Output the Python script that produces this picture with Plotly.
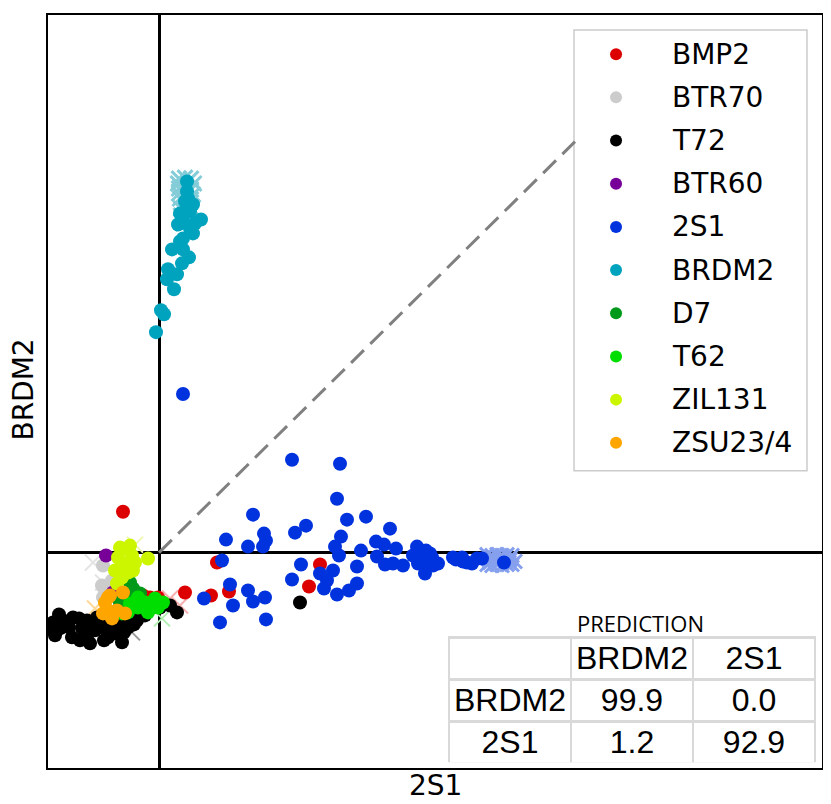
"""Scatter of BRDM2 vs 2S1 classifier scores with a small prediction table."""

import plotly.graph_objects as go

CLASSES = ['BMP2', 'BTR70', 'T72', 'BTR60', '2S1',
           'BRDM2', 'D7', 'T62', 'ZIL131', 'ZSU23/4']
COLORS = ['#dd0000', '#cccccc', '#000000', '#770099', '#0033dd',
          '#00a3bd', '#009a1a', '#00dd00', '#ccf500', '#ffa500']

# test points (x = 2S1 score, y = BRDM2 score, arbitrary units)
BMP2_X = [-0.36, 0.58, 0.26, 0.52, 0.70, 1.61, 1.50, -0.09, -0.01, 0.03, -0.16]
BMP2_Y = [0.41, -0.10, -0.40, -0.43, -0.39, -0.12, -0.34, -0.45, -0.45, -0.50, -0.43]

BTR70_X = [-0.56, -0.57, -0.52, -0.56, -0.47, -0.54]
BTR70_Y = [-0.13, -0.33, -0.36, -0.45, -0.28, -0.41]

T72_X = [-1.06, -0.96, -1.04, -0.86, -0.87, -0.79, -0.72, -0.69, -0.62, -0.64,
         -0.52, -0.51, -0.42, -0.37, -0.32, -0.26, -0.19, -0.09, 0.01, 0.11,
         0.18, -0.77, -0.99, -0.56, -0.44, -0.31, -0.22, -0.14, 1.41, -1.00,
         -0.90, -0.70, -0.60, -0.47, -0.35, -0.25, -0.80, -0.55, -0.45, -1.07]
T72_Y = [-0.70, -0.68, -0.83, -0.65, -0.85, -0.88, -0.68, -0.91, -0.65, -0.78,
         -0.61, -0.85, -0.71, -0.90, -0.65, -0.61, -0.58, -0.56, -0.55, -0.53,
         -0.60, -0.76, -0.76, -0.75, -0.81, -0.75, -0.68, -0.63, -0.50, -0.62,
         -0.75, -0.80, -0.70, -0.66, -0.80, -0.72, -0.66, -0.88, -0.75, -0.77]

BTR60_X = [-0.53, -0.46]
BTR60_Y = [-0.03, -0.40]

S21_X = [1.33, 1.81, 1.78, 0.94, 2.07, 1.88, 1.47, 1.36, 1.05, 2.31,
         1.82, 0.67, 1.07, 0.89, 1.04, 1.76, 2.17, 2.25, 2.37, 2.02,
         1.80, 2.18, 2.58, 2.67, 0.63, 1.42, 1.98, 2.26, 2.34, 2.44,
         2.58, 2.66, 2.73, 2.79, 2.59, 2.66, 2.94, 3.03, 3.08, 3.13,
         3.23, 3.45, 1.74, 1.61, 1.68, 1.65, 1.33, 1.98, 1.90, 1.78,
         0.71, 0.89, 0.94, 1.06, 0.74, 0.45, 0.61, 1.07, 0.24, 2.54,
         2.71, 2.74, 2.62, 2.97, 3.04, 3.18]
S21_Y = [0.93, 0.89, 0.54, 0.38, 0.36, 0.33, 0.27, 0.20, 0.19, 0.24,
         0.16, 0.13, 0.12, 0.06, 0.06, 0.06, 0.11, 0.08, 0.04, 0.02,
         -0.03, -0.04, 0.06, 0.02, -0.08, -0.12, -0.14, -0.12, -0.11, -0.13,
         -0.06, -0.08, -0.05, -0.11, -0.11, -0.21, -0.05, -0.05, -0.10, -0.11,
         -0.06, -0.10, -0.18, -0.21, -0.28, -0.36, -0.27, -0.31, -0.38, -0.42,
         -0.32, -0.38, -0.49, -0.45, -0.53, -0.46, -0.70, -0.67, 1.59, -0.03,
         -0.01, -0.13, -0.05, -0.07, -0.09, -0.06]

BRDM2_X = [0.28, 0.28, 0.26, 0.21, 0.31, 0.42, 0.19, 0.31, 0.34, 0.24,
           0.21, 0.13, 0.24, 0.30, 0.23, 0.09, 0.18, 0.08, 0.15, 0.02,
           0.05, -0.03, 0.29, 0.34, 0.24, 0.36]
BRDM2_Y = [3.72, 3.62, 3.52, 3.40, 3.42, 3.34, 3.29, 3.25, 3.20, 3.15,
           3.12, 3.04, 3.04, 2.96, 2.90, 2.84, 2.79, 2.74, 2.64, 2.43,
           2.39, 2.21, 3.55, 3.49, 3.32, 3.30]

D7_X = [-0.29, -0.26, -0.34, -0.27, -0.19, -0.39]
D7_Y = [-0.30, -0.36, -0.43, -0.45, -0.41, -0.50]

T62_X = [-0.21, -0.14, -0.07, -0.01, -0.21, -0.31, -0.11, 0.04, -0.37, -0.04, -0.29]
T62_Y = [-0.45, -0.50, -0.53, -0.55, -0.55, -0.60, -0.60, -0.50, -0.61, -0.46, -0.51]

ZIL131_X = [-0.39, -0.32, -0.41, -0.27, -0.34, -0.24, -0.44, -0.31, -0.37, -0.26,
            -0.42, -0.11, -0.29]
ZIL131_Y = [0.05, 0.04, -0.05, -0.03, -0.11, -0.10, -0.18, -0.20, -0.25, -0.18,
            -0.31, -0.06, 0.07]

ZSU_X = [-0.49, -0.54, -0.36, -0.51, -0.42, -0.56, -0.34, -0.47, -0.51]
ZSU_Y = [-0.43, -0.50, -0.40, -0.58, -0.58, -0.61, -0.61, -0.66, -0.45]

POINTS_X = [BMP2_X, BTR70_X, T72_X, BTR60_X, S21_X,
            BRDM2_X, D7_X, T62_X, ZIL131_X, ZSU_X]
POINTS_Y = [BMP2_Y, BTR70_Y, T72_Y, BTR60_Y, S21_Y,
            BRDM2_Y, D7_Y, T62_Y, ZIL131_Y, ZSU_Y]

# reference (training) crosses, drawn faded under the points
S21_CROSS_X = [3.28, 3.33, 3.38, 3.43, 3.48, 3.53, 3.28, 3.33, 3.38, 3.43, 3.48,
               3.53, 3.30, 3.36, 3.41, 3.46, 3.51, 3.56, 3.31, 3.40, 3.50]
S21_CROSS_Y = [-0.02, -0.03, -0.02, -0.03, -0.02, -0.03, -0.12, -0.13, -0.12, -0.13,
               -0.12, -0.12, -0.07, -0.08, -0.07, -0.08, -0.07, -0.09, -0.10, -0.05,
               -0.10]
BRDM2_CROSS_X = [0.20, 0.26, 0.32, 0.20, 0.26, 0.32, 0.21, 0.27, 0.32, 0.22,
                 0.28, 0.33, 0.24, 0.30, 0.19, 0.35, 0.20, 0.34, 0.22, 0.31]
BRDM2_CROSS_Y = [3.75, 3.76, 3.75, 3.65, 3.66, 3.64, 3.55, 3.56, 3.54, 3.45,
                 3.44, 3.45, 3.30, 3.32, 3.70, 3.70, 3.60, 3.59, 3.38, 3.24]
OTHER_CROSS_X = [-0.66, -0.56, -0.27, 0.11, 0.21, -0.64, 0.03, -0.24, -0.45]
OTHER_CROSS_Y = [-0.10, -0.30, -0.80, -0.46, -0.53, -0.56, -0.66, 0.08, -0.38]
OTHER_CROSS_COLORS = ['#e4e4e4', '#e4e4e4', '#999999', '#f6b0b0', '#f6b0b0',
                      '#ffd898', '#b0f0b0', '#eef8b0', '#c8a8d8']

DIAG_X = [0, 4.16]
DIAG_Y = [0, 4.12]

TABLE_HEADER = ['', 'BRDM2', '2S1']
TABLE_ROWS = ['BRDM2', '2S1']
TABLE_BRDM2 = ['99.9', '1.2']
TABLE_2S1 = ['0.0', '92.9']

FONT = 'DejaVu Sans'

fig = go.Figure()

fig.add_trace(go.Scatter(x=DIAG_X, y=DIAG_Y, mode='lines', showlegend=False,
                         line=dict(color='#808080', width=3, dash='18px,9px')))

fig.add_trace(go.Scatter(x=S21_CROSS_X, y=S21_CROSS_Y, mode='markers', showlegend=False,
                         marker=dict(symbol='x-thin', size=14, color='#86a0ee',
                                     line=dict(width=3, color='#86a0ee'))))
fig.add_trace(go.Scatter(x=BRDM2_CROSS_X, y=BRDM2_CROSS_Y, mode='markers', showlegend=False,
                         marker=dict(symbol='x-thin', size=15, color='#84cdd8',
                                     line=dict(width=3, color='#84cdd8'))))
fig.add_trace(go.Scatter(x=OTHER_CROSS_X, y=OTHER_CROSS_Y, mode='markers', showlegend=False,
                         marker=dict(symbol='x-thin', size=16, color=OTHER_CROSS_COLORS,
                                     line=dict(width=2, color=OTHER_CROSS_COLORS))))

for name, color, xs, ys in zip(CLASSES, COLORS, POINTS_X, POINTS_Y):
    fig.add_trace(go.Scatter(x=xs, y=ys, mode='markers', name=name, showlegend=False,
                             marker=dict(size=14, color=color, line=dict(width=0))))

# hand-made legend (matplotlib style: wide gap between key and label)
LEG_LEFT, LEG_RIGHT, LEG_TOP, LEG_BOTTOM = 0.6796, 0.9806, 0.980, 0.3947
KEY_X, TEXT_X, ROW0, ROW_STEP = 0.7339, 0.8036, 0.948, 0.05735
fig.add_shape(type='rect', xref='paper', yref='paper', layer='below',
              x0=LEG_LEFT, x1=LEG_RIGHT, y0=LEG_BOTTOM, y1=LEG_TOP,
              line=dict(color='#cccccc', width=1.5), fillcolor='white')
rows = [ROW0 - i * ROW_STEP for i in range(len(CLASSES))]
fig.add_trace(go.Scatter(x=[KEY_X] * len(CLASSES), y=rows, mode='markers',
                         xaxis='x2', yaxis='y2', showlegend=False,
                         marker=dict(size=12, color=COLORS)))
for name, row in zip(CLASSES, rows):
    fig.add_annotation(x=TEXT_X, y=row, xref='paper', yref='paper', text=name,
                       showarrow=False, xanchor='left', yanchor='middle',
                       font=dict(family=FONT, size=28, color='black'))

fig.add_trace(go.Table(
    domain=dict(x=[0.5181, 0.9922], y=[0.0066, 0.1735]),
    columnwidth=[1, 1, 1],
    header=dict(values=TABLE_HEADER, height=42, align='center', fill_color='white',
                line=dict(color='#d9d9d9', width=2.5),
                font=dict(family='Liberation Sans', size=32, color='black')),
    cells=dict(values=[TABLE_ROWS, TABLE_BRDM2, TABLE_2S1], height=42, align='center',
               fill_color='white', line=dict(color='#d9d9d9', width=2.5),
               font=dict(family='Liberation Sans', size=32, color='black'))))
fig.add_annotation(x=0.765, y=0.192, xref='paper', yref='paper', text='PREDICTION',
                   showarrow=False, xanchor='center', yanchor='middle',
                   font=dict(family='Open Sans', size=22, color='black'))

fig.add_annotation(x=0.5, y=-0.0238, xref='paper', yref='paper', text='2S1',
                   showarrow=False, xanchor='center', yanchor='middle',
                   font=dict(family=FONT, size=28, color='black'))
fig.add_annotation(x=-0.031, y=0.5026, xref='paper', yref='paper', text='BRDM2',
                   showarrow=False, textangle=-90, xanchor='center', yanchor='middle',
                   font=dict(family=FONT, size=28, color='black'))

axis_style = dict(showticklabels=False, ticks='', showgrid=False, zeroline=True,
                  zerolinecolor='black', zerolinewidth=2.5, showline=True,
                  linecolor='black', linewidth=1.5, mirror=True)
# the page body adds an 8px offset, so the figure is 8px smaller than the window
fig.update_layout(
    width=823, height=796,
    margin=dict(l=40, r=9, t=5, b=36),
    plot_bgcolor='white', paper_bgcolor='white',
    xaxis=dict(range=[-1.11, 6.63], **axis_style),
    yaxis=dict(range=[-2.16, 5.39], **axis_style),
    xaxis2=dict(range=[0, 1], overlaying='x', visible=False, anchor='y2'),
    yaxis2=dict(range=[0, 1], overlaying='y', visible=False, anchor='x2'),
)

fig.write_html('out.html')
